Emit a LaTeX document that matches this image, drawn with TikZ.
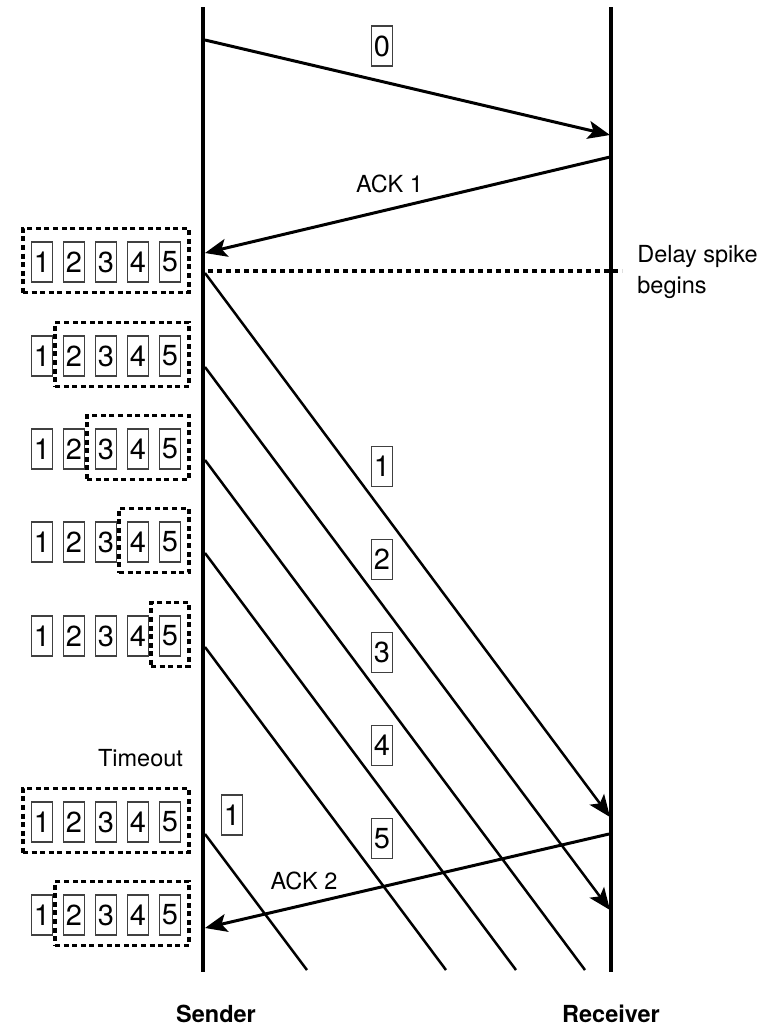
\documentclass[tikz,border=0pt]{standalone}
\usepackage{fontspec}
\setmainfont{TeX Gyre Heros}
\usetikzlibrary{arrows.meta,fit}
\begin{document}
\begin{tikzpicture}[x=0.5pt,y=-0.5pt,
  tip/.style={-{Stealth[length=11pt,width=9pt,inset=2.5pt]}},
  lifeline/.style={line width=1.6pt},
  msg/.style={line width=1.5pt,tip},
  pkt/.style={line width=1.25pt},
  num/.style={draw=black!75,line width=0.55pt,minimum width=10.5pt,minimum height=20pt,inner sep=0pt,font=\fontsize{14.5}{16}\selectfont},
  win/.style={draw,line width=1.6pt,dash pattern=on 2.5pt off 1.8pt,inner xsep=4pt,inner ysep=5.75pt,yshift=0.75pt},
  spike/.style={line width=1.6pt,dash pattern=on 2.6pt off 1.9pt},
  lbl/.style={inner sep=0pt,font=\fontsize{11.75}{15.5}\selectfont},
  role/.style={inner sep=0pt,font=\fontsize{11.75}{15.5}\selectfont\bfseries}]
\useasboundingbox (0,0) rectangle (762,1025);

% lifelines
\coordinate (s0) at (203,7); \coordinate (s1) at (203,972);
\coordinate (r0) at (611,7); \coordinate (r1) at (611,972);
\draw[lifeline] (s0) -- (s1);
\draw[lifeline] (r0) -- (r1);

% packet 0 and ACK 1
\coordinate (m0a) at (205,40); \coordinate (m0b) at (610,135);
\draw[msg] (m0a) -- (m0b);
\node[num] (n0) at (382,46) {0};
\coordinate (a1a) at (610,157); \coordinate (a1b) at (205,253);
\draw[msg] (a1a) -- (a1b);
\node[lbl] (ack1) at (389.5,184) {ACK 1};

% delay spike
\coordinate (d0) at (208,271); \coordinate (d1) at (622,271);
\draw[spike] (d0) -- (d1);
\node[lbl,anchor=west,align=left] (dspike) at (637,271.5) {Delay spike\\begins};

% packets 1..5
\coordinate (p1a) at (205,273); \coordinate (p1b) at (610,817);
\coordinate (p2a) at (205,367); \coordinate (p2b) at (610,910);
\coordinate (p3a) at (205,460); \coordinate (p3b) at (585,970);
\coordinate (p4a) at (205,553); \coordinate (p4b) at (516,970);
\coordinate (p5a) at (205,647); \coordinate (p5b) at (446,970);
\draw[pkt,tip] (p1a) -- (p1b);
\draw[pkt,tip] (p2a) -- (p2b);
\draw[pkt] (p3a) -- (p3b);
\draw[pkt] (p4a) -- (p4b);
\draw[pkt] (p5a) -- (p5b);
\foreach \i in {1,...,5} \node[num] (pl\i) at (382,{466.5+93*(\i-1)}) {\i};

% retransmission and ACK 2
\coordinate (pra) at (205,834); \coordinate (prb) at (307,970);
\draw[pkt] (pra) -- (prb);
\node[num] (prl) at (232,815) {1};
\coordinate (a2a) at (609,834); \coordinate (a2b) at (205,928);
\draw[msg] (a2a) -- (a2b);
\node[lbl] (ack2) at (304,881) {ACK 2};

% windows
\foreach \yy/\k [count=\r] in {262/1,356/2,449/3,542/4,636/5,822/1,915/2} {
  \foreach \i in {1,...,5} \node[num] (b\r-\i) at ({42+32*(\i-1)},\yy) {\i};
  \node[win,fit=(b\r-\k)(b\r-5)] (w\r) {};
}
\node[lbl] (timeout) at (140.5,758) {Timeout};

% roles
\node[role,anchor=base] (sender) at (216,1022) {Sender};
\node[role,anchor=base] (receiver) at (611,1022) {Receiver};
\end{tikzpicture}
\end{document}
